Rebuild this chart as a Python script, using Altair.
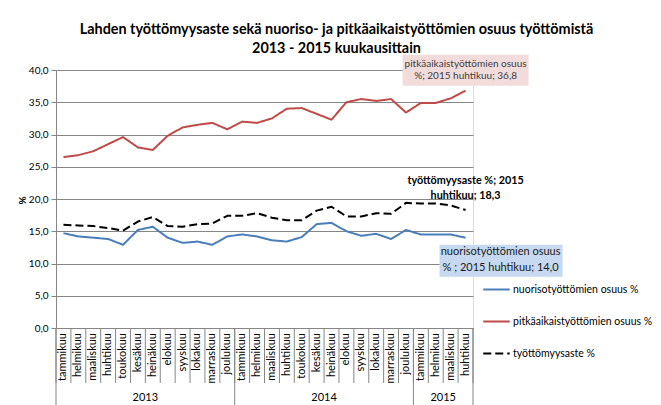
import altair as alt
import pandas as pd

# ---- data ----
months = ["tammikuu", "helmikuu", "maaliskuu", "huhtikuu", "toukokuu", "kesäkuu",
          "heinäkuu", "elokuu", "syyskuu", "lokakuu", "marraskuu", "joulukuu"]
years = ["2013", "2014", "2015"]
year_months = [12, 12, 4]

series_names = ["nuorisotyöttömien osuus %", "pitkäaikaistyöttömien osuus %", "työttömyysaste %"]
series_colors = ["#4a7ebb", "#be4b48", "#000000"]

nuoriso = [14.7, 14.2, 14.0, 13.8, 12.9, 15.2, 15.7, 14.0, 13.2, 13.4, 12.9, 14.2,
           14.5, 14.2, 13.6, 13.4, 14.1, 16.1, 16.3, 15.0, 14.3, 14.6, 13.8, 15.2,
           14.5, 14.5, 14.5, 14.0]
pitka = [26.5, 26.8, 27.4, 28.5, 29.6, 28.0, 27.6, 29.8, 31.1, 31.5, 31.8, 30.8,
         32.0, 31.8, 32.5, 34.0, 34.1, 33.2, 32.3, 35.0, 35.5, 35.2, 35.5, 33.4,
         34.9, 34.9, 35.6, 36.8]
tyott = [16.0, 15.9, 15.8, 15.5, 15.1, 16.5, 17.2, 15.8, 15.7, 16.1, 16.2, 17.4,
         17.4, 17.8, 17.1, 16.7, 16.7, 18.2, 18.8, 17.3, 17.3, 17.8, 17.7, 19.4,
         19.3, 19.3, 19.0, 18.3]

y_ticks = [0, 5, 10, 15, 20, 25, 30, 35, 40]

# ---- derived tables ----
month_labels = [m for y, k in zip(years, year_months) for m in months[:k]]
n = len(month_labels)

rows = []
for name, vals in zip(series_names, [nuoriso, pitka, tyott]):
    for i, v in enumerate(vals):
        rows.append({"i": i, "series": name, "value": v})
df = pd.DataFrame(rows)

month_df = pd.DataFrame({"i": list(range(n)), "label": month_labels})

cum = [0]
for c in year_months:
    cum.append(cum[-1] + c)
month_b = pd.DataFrame({"b": [k - 0.5 for k in range(n + 1)]})
year_b = pd.DataFrame({"b": [c - 0.5 for c in cum]})
year_mid = pd.DataFrame({"year": years,
                         "m": [(cum[k] + cum[k + 1] - 1) / 2 for k in range(len(years))]})

def fi(v):
    return f"{v:.1f}".replace(".", ",")

last_red = pd.DataFrame({"i": [n - 1], "value": [pitka[-1]]})
last_blue = pd.DataFrame({"i": [n - 1], "value": [nuoriso[-1]]})
last_black = pd.DataFrame({"i": [n - 1], "value": [tyott[-1]]})

# ---- styling ----
W, H = 417, 258
FONT = "Lato"
GRID = "#868686"

xscale = alt.Scale(domain=[-0.5, n - 0.5], nice=False, zero=False)
yscale = alt.Scale(domain=[0, 40], nice=False, zero=False)

y_axis = alt.Axis(values=y_ticks, labelExpr="replace(format(datum.value,'.1f'),'.',',')",
                  labelFont=FONT, labelFontSize=10, labelColor="#000", labelPadding=3,
                  tickSize=5, tickColor=GRID, domainColor=GRID, gridColor=GRID, gridWidth=1,
                  title="%", titleFont=FONT, titleFontSize=10, titleFontWeight="bold",
                  titleAngle=270, titleX=-34, titleY=130, titleAlign="center",
                  titleBaseline="middle", titleColor="#000")


def X(field):
    return alt.X(field, scale=xscale, axis=None)


def Y(field):
    return alt.Y(field, scale=yscale, axis=y_axis)


leg = alt.Legend(title=None, orient="none", legendX=426, legendY=205, symbolType="stroke",
                 symbolSize=700, rowPadding=12, labelFont=FONT, labelFontSize=10.5,
                 labelColor="#000", labelLimit=300, labelOffset=2)

lines = alt.Chart(df).mark_line(strokeJoin="round").encode(
    x=X("i:Q"),
    y=Y("value:Q"),
    color=alt.Color("series:N", scale=alt.Scale(domain=series_names, range=series_colors), legend=leg),
    strokeDash=alt.StrokeDash("series:N", scale=alt.Scale(domain=series_names, range=[[1, 0], [1, 0], [8, 4]]), legend=leg),
    strokeWidth=alt.StrokeWidth("series:N", scale=alt.Scale(domain=series_names, range=[2, 2, 3.5]), legend=leg),
)

month_text = alt.Chart(month_df).mark_text(font=FONT, fontSize=11, color="#000", angle=270,
                                           align="right", baseline="middle").encode(
    x=X("i:Q"), y=alt.value(H + 5), text="label:N")
month_rules = alt.Chart(month_b).mark_rule(color=GRID, strokeWidth=1).encode(
    x=X("b:Q"), y=alt.value(H), y2=alt.value(H + 55))
year_rules = alt.Chart(year_b).mark_rule(color=GRID, strokeWidth=1).encode(
    x=X("b:Q"), y=alt.value(H), y2=alt.value(H + 85))
year_text = alt.Chart(year_mid).mark_text(font=FONT, fontSize=11, color="#000",
                                          baseline="middle").encode(
    x=X("m:Q"), y=alt.value(H + 70), text="year:N")

red_box = alt.Chart(last_red).mark_rect(color="#f2dcdb", xOffset=-63, x2Offset=63,
                                        yOffset=-36, y2Offset=-5).encode(
    x=X("i:Q"), x2="i", y=Y("value:Q"), y2="value")
red_txt = alt.Chart(last_red).mark_text(font=FONT, fontSize=10, color="#404040",
                                        lineHeight=12.5, baseline="middle", dy=-27).encode(
    x=X("i:Q"), y=Y("value:Q"),
    text=alt.value(["pitkäaikaistyöttömien osuus", f"%; 2015 huhtikuu; {fi(pitka[-1])}"]))
blue_box = alt.Chart(last_blue).mark_rect(color="#c6d9f0", xOffset=-26, x2Offset=97,
                                          yOffset=7, y2Offset=39).encode(
    x=X("i:Q"), x2="i", y=Y("value:Q"), y2="value")
blue_txt = alt.Chart(last_blue).mark_text(font=FONT, fontSize=11, color="#1a1a1a",
                                          lineHeight=16, baseline="middle", dx=35, dy=14).encode(
    x=X("i:Q"), y=Y("value:Q"),
    text=alt.value(["nuorisotyöttömien osuus", f"% ; 2015 huhtikuu; {fi(nuoriso[-1])}"]))
black_txt = alt.Chart(last_black).mark_text(font=FONT, fontSize=10.8, fontWeight="bold",
                                            color="#000", lineHeight=15, baseline="middle",
                                            dy=-29).encode(
    x=X("i:Q"), y=Y("value:Q"),
    text=alt.value(["työttömyysaste %; 2015", f"huhtikuu; {fi(tyott[-1])}"]))

chart = alt.layer(
    lines, month_rules, year_rules, year_text, month_text, red_box, red_txt, blue_box,
    blue_txt, black_txt
).properties(
    width=W, height=H,
    title=alt.TitleParams(
        text=["Lahden työttömyysaste sekä nuoriso- ja pitkäaikaistyöttömien osuus työttömistä",
              "2013 - 2015 kuukausittain"],
        font=FONT, fontSize=14.4, fontWeight="bold", color="#000", anchor="middle",
        dx=72, offset=-2, lineHeight=19),
    autosize=alt.AutoSizeParams(type="none"),
    padding={"left": 48, "top": 62, "right": 180, "bottom": 80},
).configure_view(stroke=None).configure(background="white")

chart.save("out.html", embed_options={"renderer": "svg", "actions": False})
